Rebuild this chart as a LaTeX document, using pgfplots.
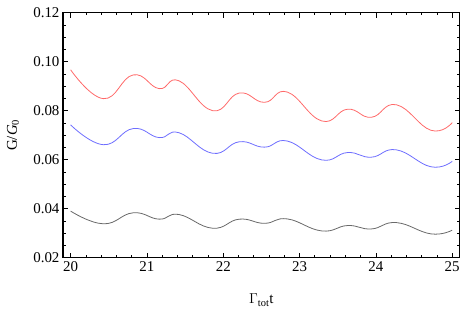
\documentclass[border=0pt]{standalone}
\usepackage{fontspec}
\setmainfont{Liberation Serif}
\usepackage{pgfplots}
\pgfplotsset{compat=1.18}
\definecolor{cred}{RGB}{255,105,105}
\definecolor{cblue}{RGB}{110,110,255}
\definecolor{cgray}{RGB}{105,105,105}
\begin{document}
\begin{tikzpicture}
\begin{axis}[
  at={(0,0)}, anchor=south west,
  scale only axis, width=397bp, height=245bp,
  xmin=19.9, xmax=25.1, ymin=0.02, ymax=0.12,
  xtick={20,21,22,23,24,25},
  ytick={0.02,0.04,0.06,0.08,0.10,0.12},
  minor x tick num=4, minor y tick num=3,
  tick align=inside,
  major tick length=5bp, minor tick length=2.8bp,
  every tick/.style={black, line width=0.7bp},
  axis line style={line width=1.1bp},
  tick pos=both,
  xticklabel pos=left, yticklabel pos=left,
  /pgf/number format/assume math mode=true,
  yticklabel style={/pgf/number format/fixed, /pgf/number format/fixed zerofill, /pgf/number format/precision=2},
  ticklabel style={font=\fontsize{15}{17}\selectfont},
  xlabel={$\Gamma$\textsubscript{tot}t},
  ylabel={G/\textit{G}\textsubscript{0}},
  label style={font=\fontsize{15}{17}\selectfont},
  xlabel style={at={(axis description cs:0.5,-0.189)}, anchor=base},
  ylabel style={at={(axis description cs:-0.126,0.5)}, anchor=center},
  every axis plot/.append style={line width=0.8bp, smooth, tension=0.78, no markers},
]
\addplot[cred] coordinates {
(20.0,0.0967) (20.43,0.0849) (20.82,0.0946) (21.16,0.0890) (21.42,0.0922)
(21.86,0.0800) (22.21,0.0872) (22.54,0.0834) (22.84,0.0876) (23.29,0.0758)
(23.63,0.0806) (23.94,0.0773) (24.27,0.0824) (24.72,0.0720) (25.0,0.0751)};
\addplot[cblue] coordinates {
(20.0,0.0742) (20.43,0.0661) (20.82,0.0727) (21.16,0.0690) (21.42,0.0710)
(21.86,0.0626) (22.21,0.0673) (22.54,0.0651) (22.84,0.0676) (23.29,0.0599)
(23.63,0.0629) (23.94,0.0610) (24.27,0.0640) (24.72,0.0571) (25.0,0.0593)};
\addplot[cgray] coordinates {
(20.0,0.0390) (20.43,0.0338) (20.82,0.0383) (21.16,0.0357) (21.42,0.0376)
(21.86,0.0320) (22.21,0.0357) (22.54,0.0340) (22.84,0.0358) (23.29,0.0309)
(23.63,0.0331) (23.94,0.0317) (24.27,0.0343) (24.72,0.0297) (25.0,0.0312)};
\end{axis}
\useasboundingbox (-63bp,-51.3bp) rectangle (400bp,257.7bp);
\end{tikzpicture}
\end{document}
